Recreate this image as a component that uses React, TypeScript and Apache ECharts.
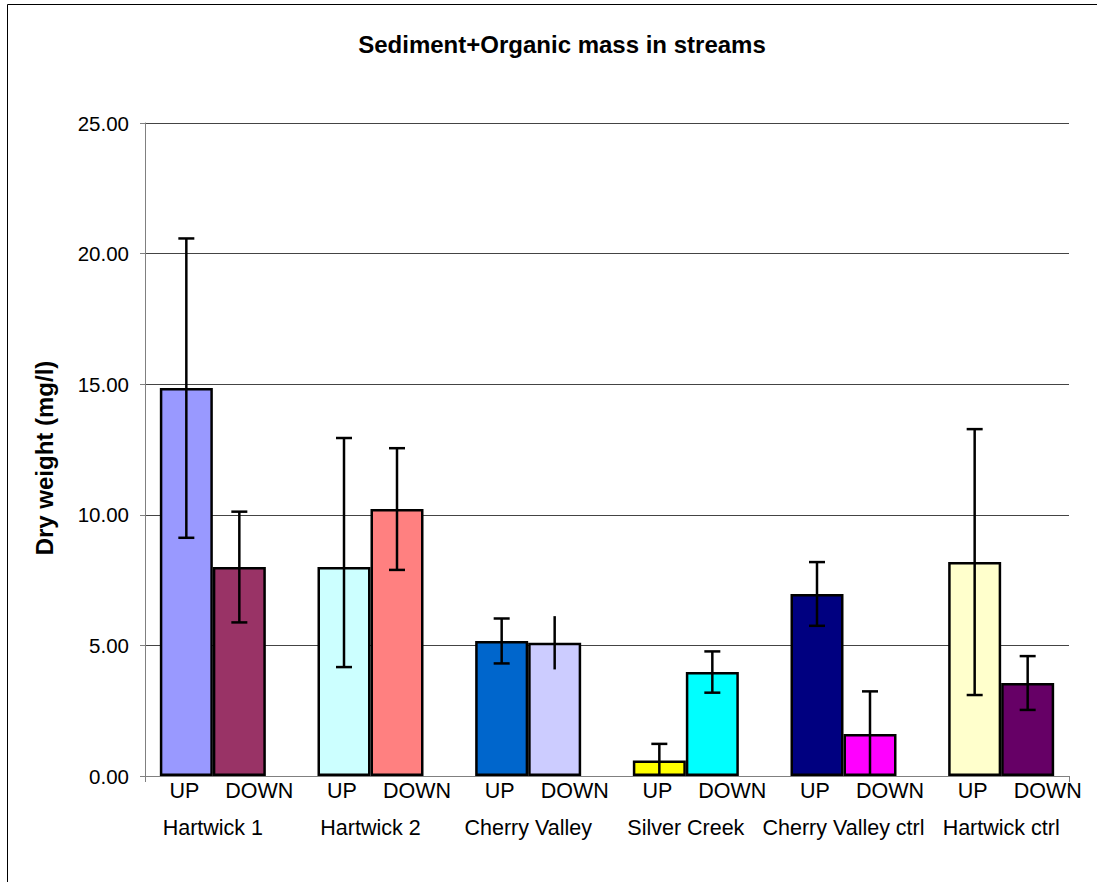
import React, { useEffect, useRef } from "react";
import * as echarts from "echarts";

const groups = ["Hartwick 1", "Hartwick 2", "Cherry Valley", "Silver Creek", "Cherry Valley ctrl", "Hartwick ctrl"];
const upValues = [14.85, 8.0, 5.17, 0.59, 6.97, 8.19];
const upErrPlus = [5.73, 4.94, 0.86, 0.64, 1.22, 5.09];
const upErrMinus = [5.73, 3.83, 0.86, 0.64, 1.22, 5.09];
const downValues = [8.0, 10.22, 5.1, 3.98, 1.61, 3.56];
const downErrPlus = [2.12, 2.33, 1.02, 0.79, 1.63, 1.03];
const downErrMinus = [2.12, 2.33, 1.02, 0.79, 1.63, 1.03];
const upColors = ["#9999FF", "#CCFFFF", "#0066CC", "#FFFF00", "#000080", "#FFFFCC"];
const downColors = ["#993366", "#FF8080", "#CCCCFF", "#00FFFF", "#FF00FF", "#660066"];
const upCaps = [1, 1, 1, 1, 1, 1];
const downCaps = [1, 1, 0, 1, 1, 1];
const yTicks = [0, 5, 10, 15, 20, 25];

const FONT = "'Liberation Sans', Arial, sans-serif";
const BAR_W = 53;
const CAP_W = 16;

export default function App() {
  const ref = useRef<HTMLDivElement>(null);
  useEffect(() => {
    if (!ref.current) return;
    const chart = echarts.init(ref.current, undefined, { renderer: "svg" });
    const errData: any[] = [];
    groups.forEach((_, i) => {
      errData.push([i, upValues[i], upErrPlus[i], upErrMinus[i], -1, upCaps[i]]);
      errData.push([i, downValues[i], downErrPlus[i], downErrMinus[i], 1, downCaps[i]]);
    });
    const yMin = yTicks[0];
    const yMax = yTicks[yTicks.length - 1];
    const yInt = yTicks[1] - yTicks[0];
    chart.setOption({
      animation: false,
      backgroundColor: "#ffffff",
      title: {
        text: "Sediment+Organic mass in streams",
        left: 557,
        top: 27,
        textAlign: "center",
        textStyle: { fontFamily: FONT, fontSize: 24, fontWeight: "bold", color: "#000" },
      },
      graphic: [
        {
          type: "rect",
          shape: { x: 7.5, y: 4.5, width: 1120, height: 920 },
          style: { fill: "none", stroke: "#000", lineWidth: 1 },
          silent: true,
        },
        {
          type: "text",
          x: 44,
          y: 458,
          rotation: Math.PI / 2,
          style: {
            text: "Dry weight (mg/l)",
            fontFamily: FONT,
            fontSize: 24,
            fontWeight: "bold",
            fill: "#000",
            align: "center",
            verticalAlign: "middle",
          },
          silent: true,
        },
      ],
      grid: [
        { left: 134, right: 17, top: 123, bottom: 106 },
        { left: 145, right: 28, top: 123, bottom: 106 },
      ],
      xAxis: [
        {
          type: "category",
          gridIndex: 0,
          data: groups,
          axisLine: { show: false },
          axisTick: { show: false },
          axisLabel: { margin: 41, fontFamily: FONT, fontSize: 21.5, color: "#000", interval: 0 },
        },
        {
          type: "category",
          gridIndex: 1,
          data: [""],
          boundaryGap: true,
          axisLine: { show: true, lineStyle: { color: "#808080", width: 1 } },
          axisTick: { show: true, length: 6, lineStyle: { color: "#808080" } },
          axisLabel: { show: false },
        },
      ],
      yAxis: [
        { type: "value", gridIndex: 0, min: yMin, max: yMax, show: false },
        {
          type: "value",
          gridIndex: 1,
          min: yMin,
          max: yMax,
          interval: yInt,
          axisLine: { show: true, lineStyle: { color: "#808080", width: 1 } },
          axisTick: { show: true, length: 5, lineStyle: { color: "#808080" } },
          axisLabel: {
            margin: 16,
            fontFamily: FONT,
            fontSize: 20.5,
            color: "#000",
            formatter: (v: number) => v.toFixed(2),
          },
          splitLine: { show: true, lineStyle: { color: "#444", width: 1 } },
        },
      ],
      series: [
        {
          name: "UP",
          type: "bar",
          xAxisIndex: 0,
          yAxisIndex: 0,
          barWidth: BAR_W,
          barGap: "0%",
          data: upValues.map((v, i) => ({
            value: v,
            itemStyle: { color: upColors[i], borderColor: "#000", borderWidth: 2.5 },
          })),
          label: {
            show: true,
            position: "bottom",
            distance: 4,
            offset: [-2, 0],
            formatter: "UP",
            fontFamily: FONT,
            fontSize: 21.5,
            color: "#000",
          },
        },
        {
          name: "DOWN",
          type: "bar",
          xAxisIndex: 0,
          yAxisIndex: 0,
          barWidth: BAR_W,
          barGap: "0%",
          data: downValues.map((v, i) => ({
            value: v,
            itemStyle: { color: downColors[i], borderColor: "#000", borderWidth: 2.5 },
          })),
          label: {
            show: true,
            position: "bottom",
            distance: 4,
            offset: [20, 0],
            formatter: "DOWN",
            fontFamily: FONT,
            fontSize: 21.5,
            color: "#000",
          },
        },
        {
          type: "custom",
          xAxisIndex: 0,
          yAxisIndex: 0,
          z: 10,
          data: errData,
          renderItem: (params: any, api: any) => {
            const cat = api.value(0);
            const v = api.value(1);
            const ep = api.value(2);
            const em = api.value(3);
            const side = api.value(4);
            const caps = api.value(5);
            const base = api.coord([cat, v]);
            const x = base[0] + (side * BAR_W) / 2;
            const lowV = Math.max(0, v - em);
            const yHigh = api.coord([cat, v + ep])[1];
            const yLow = api.coord([cat, lowV])[1];
            const st = { stroke: "#000", lineWidth: 2.5 };
            const children: any[] = [
              { type: "line", shape: { x1: x, y1: yHigh, x2: x, y2: yLow }, style: st },
            ];
            if (caps) {
              children.push({
                type: "line",
                shape: { x1: x - CAP_W / 2, y1: yHigh, x2: x + CAP_W / 2, y2: yHigh },
                style: st,
              });
              if (v - em >= 0) {
                children.push({
                  type: "line",
                  shape: { x1: x - CAP_W / 2, y1: yLow, x2: x + CAP_W / 2, y2: yLow },
                  style: st,
                });
              }
            }
            return { type: "group", children };
          },
        },
      ],
    });
    return () => chart.dispose();
  }, []);
  return (
    <div
      ref={ref}
      style={{ position: "fixed", left: 0, top: 0, width: 1097, height: 882, background: "#fff" }}
    />
  );
}
